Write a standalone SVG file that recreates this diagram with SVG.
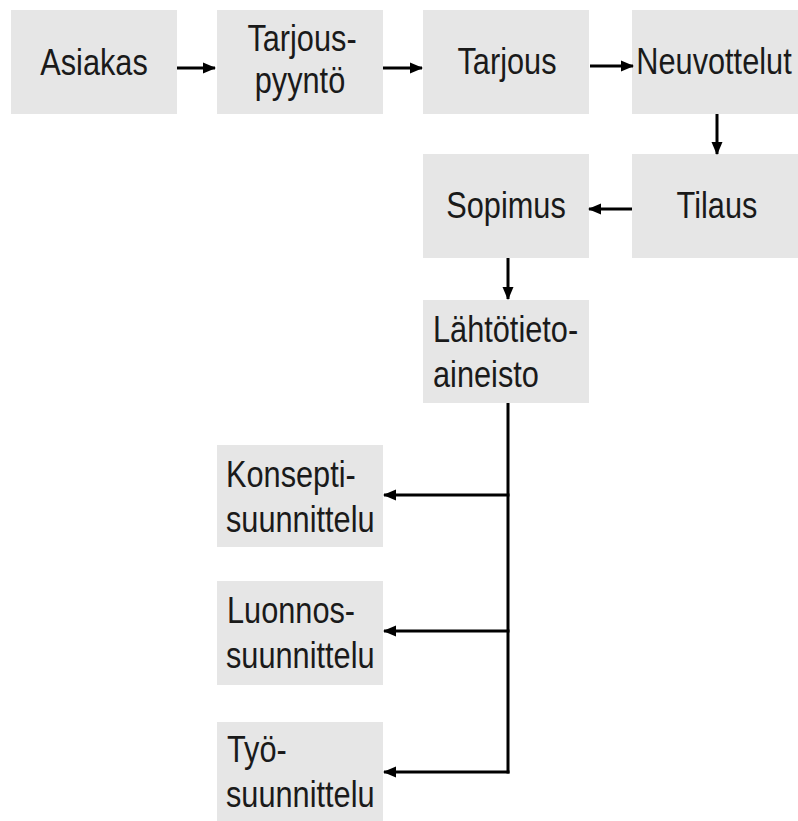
<svg xmlns="http://www.w3.org/2000/svg" width="798" height="821" viewBox="0 0 798 821">
<defs>
<marker id="ah" markerUnits="userSpaceOnUse" markerWidth="13" markerHeight="13" viewBox="0 0 13 13" refX="12" refY="6.5" orient="auto">
<path d="M0,1 L13,6.5 L0,12 Z" fill="#000"/>
</marker>
<style>
.box{fill:#e6e6e6}
.t{font-family:"Liberation Sans",Arial,sans-serif;font-size:37px;fill:#1a1a1a}
.c{text-anchor:middle}
.ln{fill:none;stroke:#000;stroke-width:3}
.ar{marker-end:url(#ah)}
</style>
</defs>
<rect width="798" height="821" fill="#fff"/>
<g id="asiakas"><rect class="box" x="11" y="10" width="166" height="104"/><text class="t c" transform="translate(94,75) scale(0.83,1)">Asiakas</text></g>
<g id="tarjouspyynto"><rect class="box" x="217" y="10" width="166" height="104"/><text class="t c" transform="translate(302,51) scale(0.83,1)">Tarjous-</text><text class="t c" transform="translate(300,93) scale(0.83,1)">pyyntö</text></g>
<g id="tarjous"><rect class="box" x="423" y="10" width="166" height="104"/><text class="t c" transform="translate(507,74) scale(0.83,1)">Tarjous</text></g>
<g id="neuvottelut"><rect class="box" x="632" y="10" width="166" height="104"/><text class="t c" transform="translate(714,74) scale(0.83,1)">Neuvottelut</text></g>
<g id="sopimus"><rect class="box" x="423" y="154" width="166" height="104"/><text class="t c" transform="translate(506,218) scale(0.83,1)">Sopimus</text></g>
<g id="tilaus"><rect class="box" x="632" y="154" width="166" height="104"/><text class="t c" transform="translate(717,218) scale(0.83,1)">Tilaus</text></g>
<g id="lahtotieto"><rect class="box" x="423" y="300" width="166" height="103"/><text class="t" transform="translate(433,342) scale(0.83,1)">Lähtötieto-</text><text class="t" transform="translate(433,387) scale(0.83,1)">aineisto</text></g>
<g id="konsepti"><rect class="box" x="217" y="445" width="166" height="102"/><text class="t" transform="translate(226,487) scale(0.83,1)">Konsepti-</text><text class="t" transform="translate(226,532) scale(0.83,1)">suunnittelu</text></g>
<g id="luonnos"><rect class="box" x="217" y="581" width="166" height="104"/><text class="t" transform="translate(227,623) scale(0.83,1)">Luonnos-</text><text class="t" transform="translate(226,668) scale(0.83,1)">suunnittelu</text></g>
<g id="tyo"><rect class="box" x="217" y="722" width="166" height="104"/><text class="t" transform="translate(227,762) scale(0.83,1)">Työ-</text><text class="t" transform="translate(226,807) scale(0.83,1)">suunnittelu</text></g>
<g id="connectors">
<line class="ln ar" x1="177" y1="68" x2="215" y2="68"/>
<line class="ln ar" x1="383" y1="68" x2="422" y2="68"/>
<line class="ln ar" x1="590" y1="66" x2="633" y2="66"/>
<line class="ln ar" x1="717" y1="114" x2="717" y2="154"/>
<line class="ln ar" x1="632" y1="209" x2="589" y2="209"/>
<line class="ln ar" x1="508" y1="258" x2="508" y2="299"/>
<path class="ln" d="M508,403 V773.5"/>
<line class="ln ar" x1="509.5" y1="495" x2="384" y2="495"/>
<line class="ln ar" x1="509.5" y1="631" x2="384" y2="631"/>
<line class="ln ar" x1="509.5" y1="772" x2="384" y2="772"/>
</g>
</svg>
